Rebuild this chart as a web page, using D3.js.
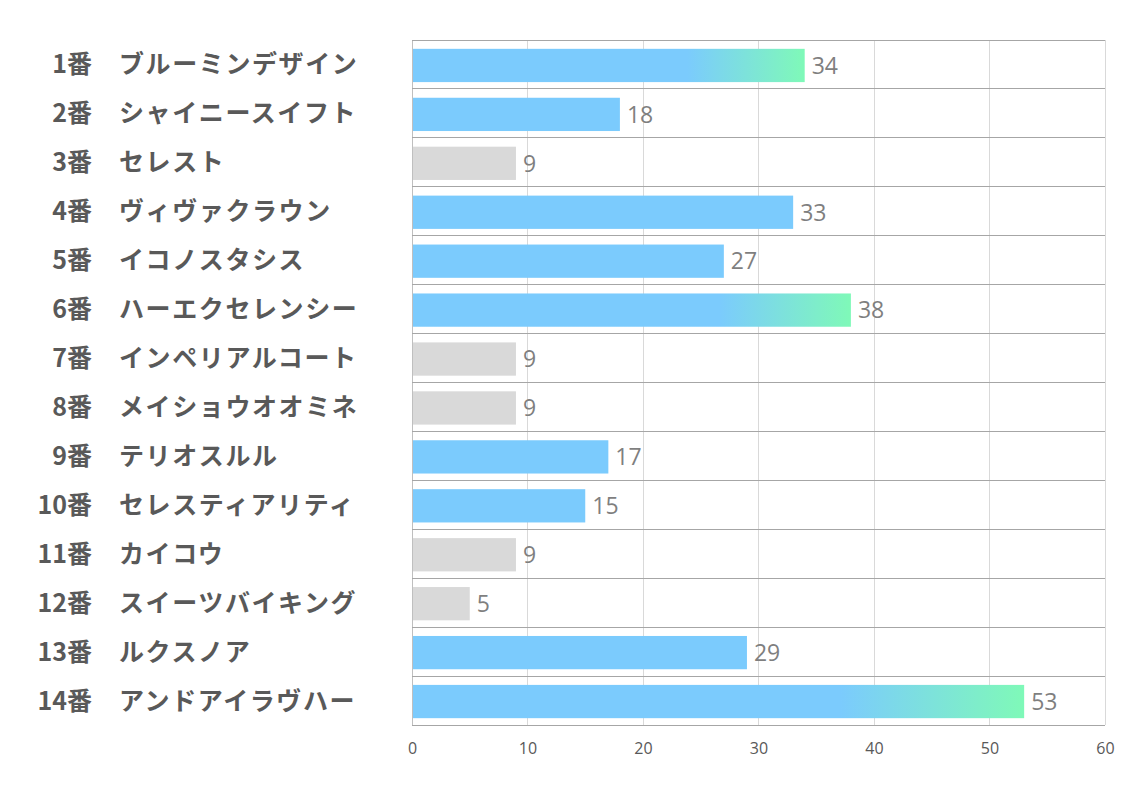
<!DOCTYPE html>
<html>
<head>
<meta charset="utf-8">
<script src="https://cdn.jsdelivr.net/npm/d3@7"></script>
<style>
  body { margin: 0; background: #fff; }
  svg text { font-family: "Noto Sans CJK JP", "Noto Sans", sans-serif; }
</style>
</head>
<body>
<div id="chart"></div>
<script>
const numbers = ["1番","2番","3番","4番","5番","6番","7番","8番","9番","10番","11番","12番","13番","14番"]
const horses = ["ブルーミンデザイン","シャイニースイフト","セレスト","ヴィヴァクラウン","イコノスタシス","ハーエクセレンシー","インペリアルコート","メイショウオオミネ","テリオスルル","セレスティアリティ","カイコウ","スイーツバイキング","ルクスノア","アンドアイラヴハー"]
const values = [34, 18, 9, 33, 27, 38, 9, 9, 17, 15, 9, 5, 29, 53]
// top = gradient, mid = blue, low = grey
const kinds = ["top","mid","low","mid","mid","top","low","low","mid","mid","low","low","mid","top"]
const ticks = [0, 10, 20, 30, 40, 50, 60]

const width = 1134, height = 793
const plotL = 412, plotR = 1105, plotT = 40, plotB = 725

const svg = d3.select("#chart").append("svg")
  .attr("width", width)
  .attr("height", height)

const x = d3.scaleLinear().domain([0, 60]).range([plotL, plotR])
const y = d3.scaleBand().domain(d3.range(values.length)).range([plotT, plotB]).paddingInner(0.32).paddingOuter(0.16)
const row = (plotB - plotT) / values.length

const defs = svg.append("defs")
const grad = defs.append("linearGradient")
  .attr("id", "hi")
  .attr("x1", "0%").attr("x2", "100%").attr("y1", "0%").attr("y2", "0%")
grad.append("stop").attr("offset", "0%").attr("stop-color", "#7bcbfd")
grad.append("stop").attr("offset", "70%").attr("stop-color", "#7bcbfd")
grad.append("stop").attr("offset", "100%").attr("stop-color", "#7ff9b8")

// vertical grid
svg.append("g").selectAll("line")
  .data(ticks)
  .enter().append("line")
  .attr("x1", d => x(d)).attr("x2", d => x(d))
  .attr("y1", plotT).attr("y2", plotB)
  .attr("stroke", d => d === 0 ? "#bfbfbf" : "#d9d9d9")
  .attr("stroke-width", 1)
  .attr("shape-rendering", "crispEdges")

// row separators
svg.append("g").selectAll("line")
  .data(d3.range(values.length + 1))
  .enter().append("line")
  .attr("x1", plotL).attr("x2", plotR)
  .attr("y1", d => plotT + d * row).attr("y2", d => plotT + d * row)
  .attr("stroke", "#a6a6a6")
  .attr("stroke-width", 1)
  .attr("shape-rendering", "crispEdges")

const fill = k => k === "top" ? "url(#hi)" : k === "mid" ? "#7bcbfd" : "#d9d9d9"

svg.append("g").selectAll("rect")
  .data(values)
  .enter().append("rect")
  .attr("x", x(0) + 1)
  .attr("y", (d, i) => y(i) + 1)
  .attr("width", d => x(d) - x(0) - 1)
  .attr("height", y.bandwidth())
  .attr("fill", (d, i) => fill(kinds[i]))

svg.append("g").selectAll("text")
  .data(values)
  .enter().append("text")
  .attr("x", d => x(d) + 7)
  .attr("y", (d, i) => y(i) + 1 + y.bandwidth() / 2)
  .attr("dy", "0.36em")
  .attr("font-size", 23)
  .attr("fill", "#7f7f7f")
  .style("font-family", "'Open Sans', sans-serif")
  .text(d => d)

// row labels
const lab = svg.append("g").selectAll("g")
  .data(horses)
  .enter().append("g")

lab.append("text")
  .attr("x", 92)
  .attr("y", (d, i) => plotT + (i + 0.5) * row)
  .attr("dy", "0.36em")
  .attr("text-anchor", "end")
  .attr("font-size", 25)
  .attr("font-weight", "bold")
  .attr("fill", "#595959")
  .text((d, i) => numbers[i])

lab.append("text")
  .attr("x", 119)
  .attr("y", (d, i) => plotT + (i + 0.5) * row)
  .attr("dy", "0.36em")
  .attr("font-size", 25)
  .attr("font-weight", "bold")
  .attr("letter-spacing", 1.6)
  .attr("fill", "#595959")
  .text(d => d)

// x axis labels
const axis = svg.append("g")
  .attr("transform", "translate(0," + (plotB + 18) + ")")
  .call(d3.axisBottom(x).tickValues(ticks).tickSize(0).tickPadding(0))
axis.select(".domain").remove()
axis.selectAll("text")
  .attr("font-size", 16)
  .attr("fill", "#595959")
  .style("font-family", "'Open Sans', sans-serif")
</script>
</body>
</html>
